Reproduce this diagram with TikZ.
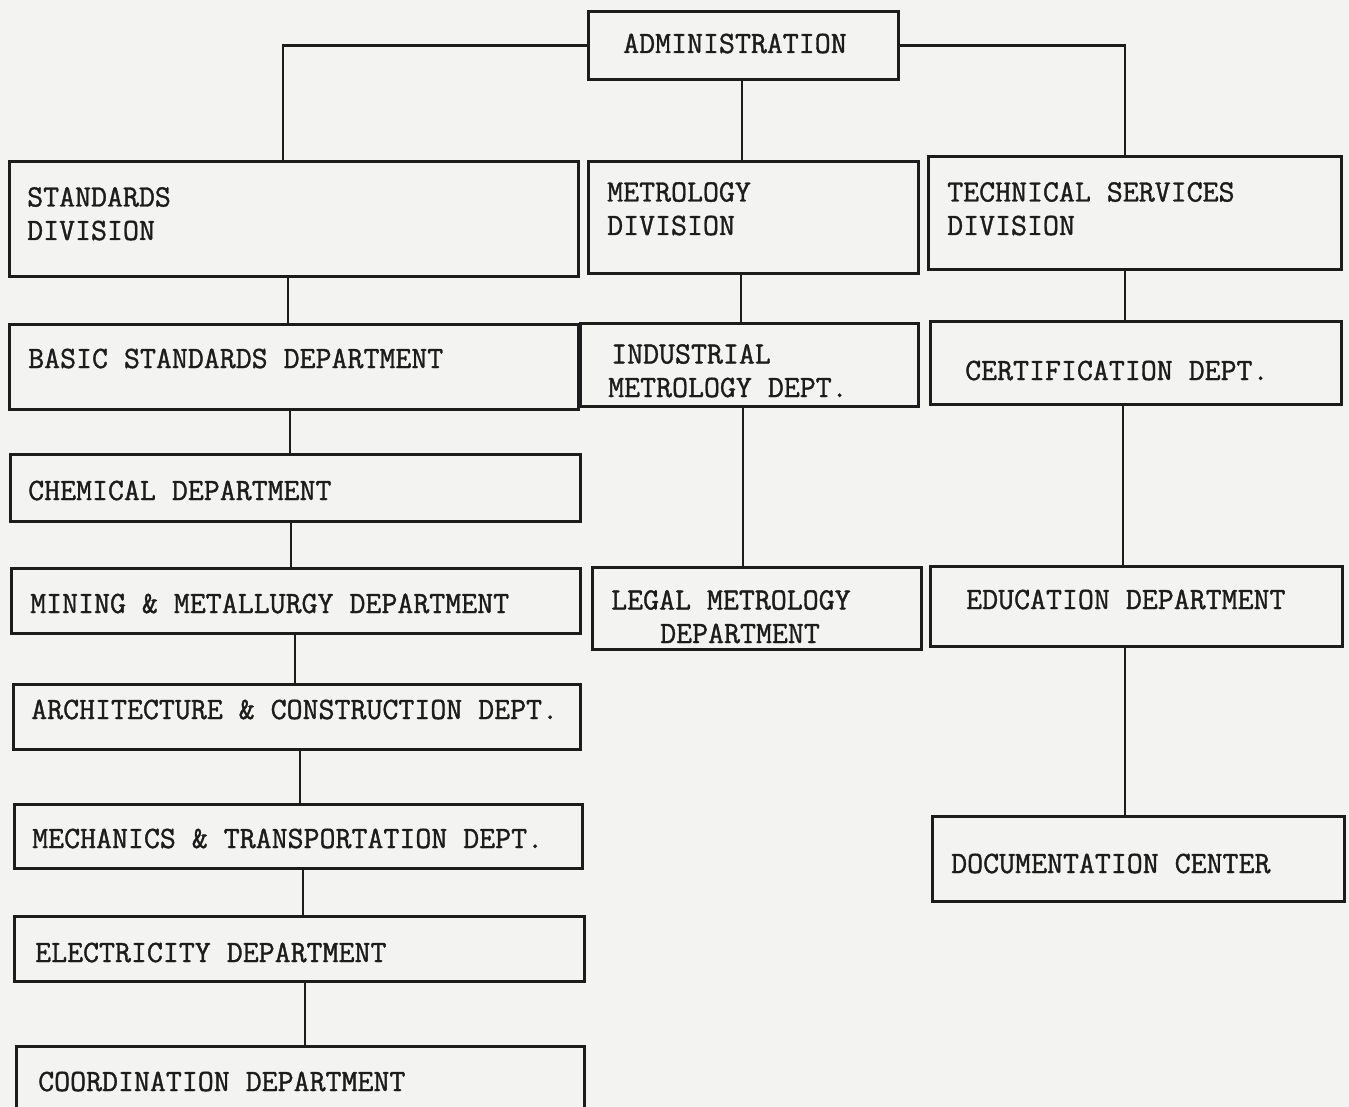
\documentclass[tikz,border=0pt]{standalone}
\usepackage{fontspec}
\newfontfamily\tw{Latin Modern Mono}[FakeBold=1.2]
\usetikzlibrary{calc}
\definecolor{paper}{RGB}{243,243,241}
\definecolor{ink}{RGB}{28,28,28}
\begin{document}
\begin{tikzpicture}[x=1pt,y=-1pt,
  box/.style={draw=ink,line width=2.6pt,rectangle,inner sep=0pt,anchor=north west},
  lbl/.style={text=ink,inner sep=0pt,anchor=base west,align=left,
    font=\tw\fontsize{31}{33.5}\selectfont},
  link/.style={draw=ink,line width=2.7pt}]
\fill[paper] (0,0) rectangle (1349,1107);
\useasboundingbox (0,0) rectangle (1349,1107);
\clip (0,0) rectangle (1349,1107);
% boxes
\node[box,minimum width=310,minimum height=68] (admin) at (587,10) {};
\node[box,minimum width=569,minimum height=115] (std) at (8,160) {};
\node[box,minimum width=330,minimum height=112] (met) at (587,160) {};
\node[box,minimum width=413,minimum height=113] (tech) at (927,155) {};
\node[box,minimum width=569,minimum height=85] (basic) at (8,323) {};
\node[box,minimum width=338,minimum height=83] (ind) at (579,322) {};
\node[box,minimum width=411,minimum height=83] (cert) at (929,320) {};
\node[box,minimum width=570,minimum height=67] (chem) at (9,453) {};
\node[box,minimum width=569,minimum height=65] (mining) at (10,567) {};
\node[box,minimum width=329,minimum height=82] (legal) at (591,566) {};
\node[box,minimum width=412,minimum height=80] (edu) at (929,565) {};
\node[box,minimum width=567,minimum height=65] (arch) at (12,683) {};
\node[box,minimum width=568,minimum height=64] (mech) at (13,803) {};
\node[box,minimum width=570,minimum height=65] (elec) at (13,915) {};
\node[box,minimum width=568,minimum height=80] (coord) at (15,1045) {};
\node[box,minimum width=412,minimum height=85] (doc) at (931,815) {};
% labels (multi-line labels are anchored at their last baseline)
\node[lbl] (adminT) at (623,53) {ADMINISTRATION};
\node[lbl] (stdT) at (27,240) {STANDARDS\\DIVISION};
\node[lbl] (metT) at (607,235) {METROLOGY\\DIVISION};
\node[lbl] (techT) at (947,235) {TECHNICAL SERVICES\\DIVISION};
\node[lbl] (basicT) at (28,368) {BASIC STANDARDS DEPARTMENT};
\node[lbl] (indT) at (608,397) {\hspace*{3pt}INDUSTRIAL\\METROLOGY DEPT.};
\node[lbl] (certT) at (965,380) {CERTIFICATION DEPT.};
\node[lbl] (chemT) at (28,500) {CHEMICAL DEPARTMENT};
\node[lbl] (miningT) at (30,613) {MINING \& METALLURGY DEPARTMENT};
\node[lbl] (legalT) at (611,643) {LEGAL METROLOGY\\\hspace*{49pt}DEPARTMENT};
\node[lbl] (eduT) at (966,609) {EDUCATION DEPARTMENT};
\node[lbl] (archT) at (31,719) {ARCHITECTURE \& CONSTRUCTION DEPT.};
\node[lbl] (mechT) at (32,848) {MECHANICS \& TRANSPORTATION DEPT.};
\node[lbl] (elecT) at (35,962) {ELECTRICITY DEPARTMENT};
\node[lbl] (coordT) at (38,1091) {COORDINATION DEPARTMENT};
\node[lbl] (docT) at (951,873) {DOCUMENTATION CENTER};
% connector columns
\coordinate (lx) at (283,0);
\coordinate (mx) at (742,0);
\coordinate (rx) at (1125,0);
% connectors
\draw[link] (admin.west) -| (std.north -| lx);
\draw[link] (admin.east) -| (tech.north -| rx);
\draw[link] (admin.south -| mx) -- (met.north -| mx);
\draw[link] (std.south -| 288,0) -- (basic.north -| 288,0);
\draw[link] (basic.south -| 290,0) -- (chem.north -| 290,0);
\draw[link] (chem.south -| 291,0) -- (mining.north -| 291,0);
\draw[link] (mining.south -| 295,0) -- (arch.north -| 295,0);
\draw[link] (arch.south -| 300,0) -- (mech.north -| 300,0);
\draw[link] (mech.south -| 303,0) -- (elec.north -| 303,0);
\draw[link] (elec.south -| 305,0) -- (coord.north -| 305,0);
\draw[link] (met.south -| 741,0) -- (ind.north -| 741,0);
\draw[link] (ind.south -| 743,0) -- (legal.north -| 743,0);
\draw[link] (tech.south -| rx) -- (cert.north -| rx);
\draw[link] (cert.south -| 1123,0) -- (edu.north -| 1123,0);
\draw[link] (edu.south -| rx) -- (doc.north -| rx);
\end{tikzpicture}
\end{document}
